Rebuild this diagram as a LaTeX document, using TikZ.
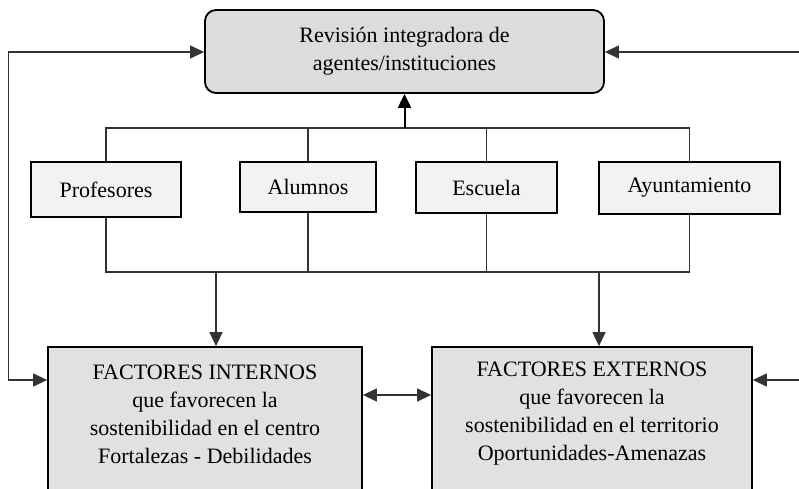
\documentclass[tikz,border=0pt]{standalone}
\usepackage{fontspec}
\setmainfont{Liberation Serif}
\usetikzlibrary{arrows.meta,calc}
\definecolor{topfill}{RGB}{220,220,222}
\definecolor{smallfill}{RGB}{242,242,242}
\definecolor{bigfill}{RGB}{225,225,227}
\begin{document}
\begin{tikzpicture}[x=1pt,y=-1pt,
  boxline/.style={draw=black,line width=1.8pt},
  conn/.style={line width=1.3pt,draw=black!80},
  tip/.style={-{Triangle[length=14pt,width=13pt]}},
  dtip/.style={{Triangle[length=14pt,width=13pt]}-{Triangle[length=14pt,width=13pt]}},
  txt/.style={font=\fontsize{22}{28}\selectfont,align=center,inner sep=0pt}]
\clip (0,0) rectangle (799,489);
% boxes
\node[boxline,fill=topfill,rounded corners=11pt,minimum width=399pt,minimum height=83pt,txt] (top) at (404.5,51.5) {Revisión integradora de\\agentes/instituciones};
\node[boxline,fill=smallfill,minimum width=150pt,minimum height=55pt,txt] (prof) at (106,189.5) {Profesores};
\node[boxline,fill=smallfill,minimum width=136pt,minimum height=50pt,txt] (alum) at (308,187) {Alumnos};
\node[boxline,fill=smallfill,minimum width=141pt,minimum height=51pt,txt] (escu) at (486.5,187.5) {Escuela};
\node[boxline,fill=smallfill,minimum width=181pt,minimum height=52pt,txt] (ayun) at (689.5,188) {Ayuntamiento};
\node[boxline,fill=bigfill,minimum width=314pt,minimum height=160pt] (int) at (205,427) {};
\node[boxline,fill=bigfill,minimum width=320pt,minimum height=160pt] (ext) at (592,427) {};
\node[txt] (intT) at (205,414) {FACTORES INTERNOS\\que favorecen la\\sostenibilidad en el centro\\Fortalezas - Debilidades};
\node[txt] (extT) at (592,414) {FACTORES EXTERNOS\\que favorecen la\\sostenibilidad en el territorio\\Oportunidades-Amenazas};
% coordinates
\coordinate (tj) at (404.5,128);
\coordinate (bj1) at (216,272);
\coordinate (bj2) at (599,272);
\coordinate (L1) at (8.5,380);
\coordinate (L2) at (8.5,52);
\coordinate (R1) at (802,380);
\coordinate (R2) at (802,52);
\coordinate (mid) at (397,395);
% top tree
\draw[conn] (prof.north) -- (prof.north |- tj) -- (ayun.north |- tj) -- (ayun.north);
\draw[conn] (alum.north) -- (alum.north |- tj);
\draw[conn] (escu.north) -- (escu.north |- tj);
\draw[conn,draw=black,line width=2pt,tip] (tj) -- (top.south);
% bottom tree
\draw[conn] (prof.south) -- (prof.south |- bj1) -- (ayun.south |- bj1) -- (ayun.south);
\draw[conn] (alum.south) -- (alum.south |- bj1);
\draw[conn] (escu.south) -- (escu.south |- bj1);
\draw[conn,tip] (bj1) -- (bj1 |- int.north);
\draw[conn,tip] (bj2) -- (bj2 |- ext.north);
% feedback lines
\draw[conn,dtip] (top.west |- L2) -- (L2) -- (L1) -- (L1 -| int.west);
\draw[conn,tip] (R2) -- (top.east |- R2);
\draw[conn,tip] (R2) -- (R1) -- (R1 -| ext.east);
\draw[conn,dtip] (mid -| int.east) -- (mid -| ext.west);
\end{tikzpicture}
\end{document}
